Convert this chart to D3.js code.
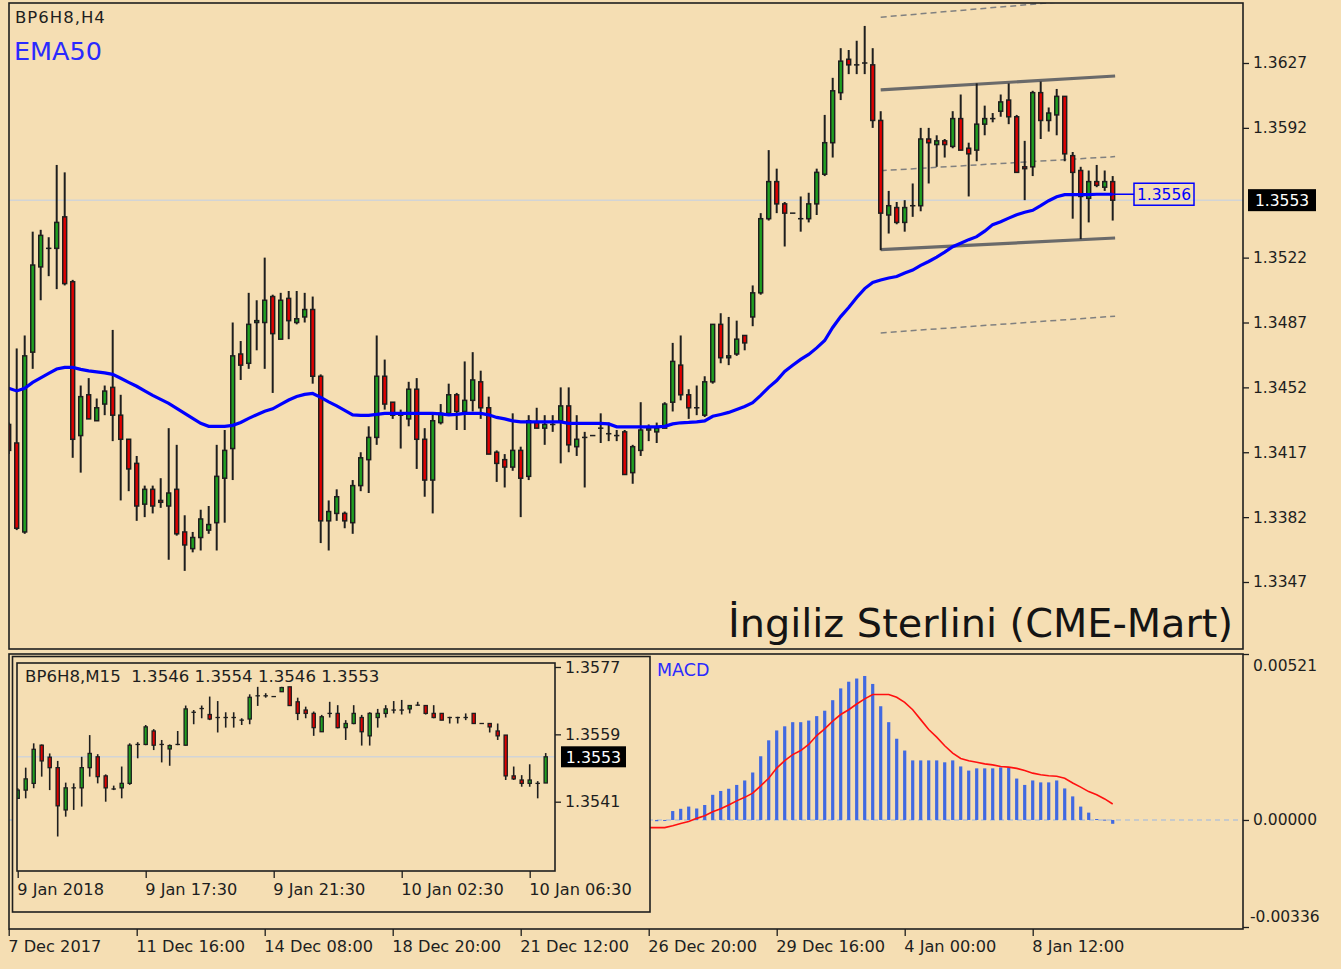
<!DOCTYPE html>
<html>
<head>
<meta charset="utf-8">
<script src="https://cdn.jsdelivr.net/npm/d3@7"></script>
<style>
  body { margin: 0; background: #f5deb3; }
  svg text { font-family: "DejaVu Sans", Verdana, sans-serif; }
</style>
</head>
<body>
<svg id="viz"></svg>
<script>
// ---- H4 candles (first one is cut by the left edge) ----
var mainOpen = [
  1.3432, 1.3422, 1.3374, 1.3471, 1.3517, 1.3527, 1.3527, 1.3544, 1.3509, 1.3426,
  1.3448, 1.3434, 1.3443, 1.3452, 1.3437, 1.3424, 1.3411, 1.3389, 1.3397, 1.3391,
  1.3388, 1.3397, 1.3374, 1.3365, 1.3371, 1.3375, 1.3379, 1.3403, 1.3419, 1.3470,
  1.3465, 1.3487, 1.3487, 1.3501, 1.3478, 1.3500, 1.3487, 1.3490, 1.3494, 1.3458,
  1.3380, 1.3384, 1.3384, 1.3379, 1.3399, 1.3413, 1.3425, 1.3458, 1.3444, 1.3437,
  1.3435, 1.3451, 1.3424, 1.3402, 1.3433, 1.3438, 1.3448, 1.3439, 1.3445, 1.3455,
  1.3441, 1.3417, 1.3413, 1.3409, 1.3418, 1.3404, 1.3433, 1.3430, 1.3432, 1.3434,
  1.3442, 1.3420, 1.3425, 1.3426, 1.3430, 1.3427, 1.3426, 1.3428, 1.3406, 1.3418,
  1.3429, 1.3428, 1.3430, 1.3444, 1.3464, 1.3448, 1.3441, 1.3437, 1.3455, 1.3486,
  1.3468, 1.3470, 1.3480, 1.3490, 1.3503, 1.3543, 1.3563, 1.3551, 1.3546, 1.3543,
  1.3543, 1.3551, 1.3567, 1.3584, 1.3611, 1.3629, 1.3626, 1.3627, 1.3626, 1.3596,
  1.3545, 1.3549, 1.3541, 1.3550, 1.3550, 1.3586, 1.3583, 1.3585, 1.3582, 1.3597,
  1.3581, 1.3580, 1.3594, 1.3597, 1.3601, 1.3607, 1.3598, 1.3571, 1.3571, 1.3611,
  1.3596, 1.3599, 1.3609, 1.3577, 1.3569, 1.3554, 1.3563, 1.3560, 1.3563
];
var mainHigh = [
  1.3433, 1.3473, 1.3480, 1.3536, 1.3537, 1.3533, 1.3572, 1.3568, 1.3510, 1.3453,
  1.3457, 1.3446, 1.3453, 1.3483, 1.3448, 1.3424, 1.3415, 1.3399, 1.3399, 1.3403,
  1.3430, 1.3421, 1.3383, 1.3374, 1.3386, 1.3388, 1.3421, 1.3429, 1.3487, 1.3477,
  1.3503, 1.3499, 1.3522, 1.3502, 1.3503, 1.3504, 1.3504, 1.3503, 1.3501, 1.3459,
  1.3391, 1.3397, 1.3385, 1.3402, 1.3417, 1.3431, 1.3480, 1.3467, 1.3444, 1.3440,
  1.3455, 1.3457, 1.3430, 1.3438, 1.3443, 1.3454, 1.3449, 1.3466, 1.3471, 1.3461,
  1.3447, 1.3418, 1.3416, 1.3438, 1.3420, 1.3437, 1.3441, 1.3437, 1.3437, 1.3452,
  1.3452, 1.3437, 1.3428, 1.3426, 1.3438, 1.3433, 1.3429, 1.3429, 1.3421, 1.3444,
  1.3432, 1.3433, 1.3444, 1.3476, 1.3480, 1.3451, 1.3453, 1.3458, 1.3486, 1.3492,
  1.3490, 1.3488, 1.3480, 1.3507, 1.3546, 1.3580, 1.3570, 1.3552, 1.3546, 1.3555,
  1.3557, 1.3570, 1.3599, 1.3619, 1.3635, 1.3634, 1.3639, 1.3647, 1.3635, 1.3601,
  1.3558, 1.3552, 1.3553, 1.3562, 1.3592, 1.3592, 1.3588, 1.3586, 1.3601, 1.3610,
  1.3584, 1.3616, 1.3604, 1.3600, 1.3610, 1.3616, 1.3599, 1.3585, 1.3612, 1.3617,
  1.3603, 1.3613, 1.3609, 1.3579, 1.3571, 1.3569, 1.3572, 1.3569, 1.3566
];
var mainLow = [
  1.3416, 1.3375, 1.3373, 1.3462, 1.3499, 1.3512, 1.3505, 1.3507, 1.3414, 1.3406,
  1.3435, 1.3434, 1.3437, 1.3423, 1.3391, 1.3396, 1.3380, 1.3382, 1.3384, 1.3387,
  1.3359, 1.3372, 1.3353, 1.3363, 1.3364, 1.3373, 1.3364, 1.3379, 1.3402, 1.3456,
  1.3462, 1.3472, 1.3462, 1.3449, 1.3478, 1.3478, 1.3486, 1.3487, 1.3454, 1.3368,
  1.3364, 1.3380, 1.3376, 1.3373, 1.3396, 1.3395, 1.3421, 1.3440, 1.3435, 1.3419,
  1.3431, 1.3408, 1.3393, 1.3384, 1.3432, 1.3437, 1.3429, 1.3429, 1.3439, 1.3435,
  1.3416, 1.3401, 1.3398, 1.3407, 1.3382, 1.3402, 1.3430, 1.3421, 1.3428, 1.3411,
  1.3417, 1.3415, 1.3398, 1.3426, 1.3422, 1.3423, 1.3423, 1.3405, 1.3400, 1.3415,
  1.3423, 1.3422, 1.3430, 1.3439, 1.3445, 1.3435, 1.3437, 1.3436, 1.3454, 1.3465,
  1.3464, 1.3469, 1.3472, 1.3485, 1.3502, 1.3542, 1.3546, 1.3528, 1.3546, 1.3536,
  1.3541, 1.3545, 1.3566, 1.3576, 1.3607, 1.3621, 1.3621, 1.3621, 1.3592, 1.3526,
  1.3535, 1.3540, 1.3536, 1.3544, 1.3547, 1.3562, 1.3571, 1.3576, 1.3581, 1.3580,
  1.3555, 1.3574, 1.3588, 1.3595, 1.3598, 1.3594, 1.3568, 1.3553, 1.3566, 1.3586,
  1.3590, 1.3588, 1.3574, 1.3543, 1.3532, 1.3541, 1.3560, 1.3558, 1.3542
];
var mainClose = [
  1.3418, 1.3376, 1.3469, 1.3518, 1.3534, 1.3527, 1.3541, 1.3508, 1.3424, 1.3447,
  1.3435, 1.3441, 1.3450, 1.3437, 1.3424, 1.3408, 1.3388, 1.3397, 1.3388, 1.3390,
  1.3395, 1.3373, 1.3367, 1.3371, 1.3381, 1.3378, 1.3404, 1.3418, 1.3469, 1.3464,
  1.3486, 1.3488, 1.3499, 1.3481, 1.3499, 1.3488, 1.3489, 1.3494, 1.3458, 1.3380,
  1.3385, 1.3393, 1.3380, 1.3399, 1.3414, 1.3425, 1.3458, 1.3443, 1.3437, 1.3437,
  1.3451, 1.3424, 1.3402, 1.3434, 1.3438, 1.3448, 1.3439, 1.3445, 1.3456, 1.3441,
  1.3416, 1.3411, 1.3409, 1.3418, 1.3403, 1.3434, 1.3430, 1.3432, 1.3432, 1.3442,
  1.3421, 1.3424, 1.3425, 1.3426, 1.3430, 1.3427, 1.3426, 1.3405, 1.3420, 1.3429,
  1.3430, 1.3430, 1.3443, 1.3466, 1.3448, 1.3441, 1.3441, 1.3455, 1.3486, 1.3468,
  1.3469, 1.3478, 1.3476, 1.3503, 1.3543, 1.3563, 1.3551, 1.3546, 1.3546, 1.3543,
  1.3551, 1.3568, 1.3584, 1.3612, 1.3628, 1.3626, 1.3626, 1.3627, 1.3596, 1.3546,
  1.3550, 1.3541, 1.3549, 1.3550, 1.3586, 1.3584, 1.3585, 1.3583, 1.3597, 1.3580,
  1.3578, 1.3594, 1.3597, 1.3597, 1.3606, 1.3598, 1.3568, 1.3570, 1.3611, 1.3596,
  1.3600, 1.3609, 1.3578, 1.3568, 1.3555, 1.3563, 1.3561, 1.3563, 1.3553
];

// EMA(50), one value per H4 bar
var ema50 = [
  1.34515, 1.34501, 1.34515, 1.34547, 1.34571, 1.34595, 1.34619, 1.34628, 1.34628, 1.34617,
  1.34609, 1.34604, 1.34598, 1.34590, 1.34569, 1.34547, 1.34526, 1.34501, 1.34477, 1.34455,
  1.34434, 1.34407, 1.34380, 1.34353, 1.34326, 1.34310, 1.34310, 1.34310, 1.34315, 1.34331,
  1.34353, 1.34372, 1.34391, 1.34404, 1.34428, 1.34452, 1.34471, 1.34482, 1.34487, 1.34466,
  1.34442, 1.34420, 1.34396, 1.34372, 1.34369, 1.34369, 1.34374, 1.34380, 1.34380, 1.34380,
  1.34380, 1.34380, 1.34380, 1.34380, 1.34377, 1.34372, 1.34374, 1.34380, 1.34380, 1.34380,
  1.34372, 1.34358, 1.34350, 1.34339, 1.34334, 1.34334, 1.34334, 1.34334, 1.34334, 1.34334,
  1.34326, 1.34326, 1.34326, 1.34326, 1.34326, 1.34323, 1.34307, 1.34307, 1.34307, 1.34307,
  1.34307, 1.34307, 1.34310, 1.34323, 1.34329, 1.34331, 1.34334, 1.34339, 1.34364, 1.34374,
  1.34385, 1.34401, 1.34417, 1.34437, 1.34477, 1.34520, 1.34557, 1.34606, 1.34639, 1.34671,
  1.34698, 1.34733, 1.34773, 1.34843, 1.34902, 1.34951, 1.35005, 1.35053, 1.35086, 1.35099,
  1.35110, 1.35118, 1.35137, 1.35153, 1.35178, 1.35199, 1.35223, 1.35250, 1.35279, 1.35298,
  1.35317, 1.35333, 1.35363, 1.35398, 1.35414, 1.35433, 1.35451, 1.35465, 1.35475, 1.35500,
  1.35527, 1.35548, 1.35560, 1.35560, 1.35560, 1.35560, 1.35562, 1.35562, 1.35562
];

// drawn channel: start bar, end bar, price at start and end of each line
var channelBars = [109, 138.3];
var channelSolidStart = [1.36125, 1.35263];
var channelSolidEnd = [1.36200, 1.35326];
var channelDashStart = [1.36517, 1.35689, 1.34814];
var channelDashEnd = [1.36625, 1.35765, 1.34904];

var mainTicks = [1.3627, 1.3592, 1.3522, 1.3487, 1.3452, 1.3417, 1.3382, 1.3347];
var timeTickBars = [0, 16, 32, 48, 64, 80, 96, 112, 128];
var timeLabels = ['7 Dec 2017', '11 Dec 16:00', '14 Dec 08:00', '18 Dec 20:00', '21 Dec 12:00',
  '26 Dec 20:00', '29 Dec 16:00', '4 Jan 00:00', '8 Jan 12:00'];

// ---- MACD (histogram from bar 81, signal from bar 80) ----
var macdStart = 81;
var macdHist = [
  -0.00004, 0.00000, 0.00028, 0.00035, 0.00042, 0.00036, 0.00047, 0.00079, 0.00091, 0.00098,
  0.00110, 0.00124, 0.00149, 0.00200, 0.00250, 0.00281, 0.00294, 0.00307, 0.00307, 0.00312,
  0.00326, 0.00343, 0.00376, 0.00413, 0.00434, 0.00444, 0.00452, 0.00427, 0.00357, 0.00307,
  0.00255, 0.00218, 0.00187, 0.00187, 0.00187, 0.00187, 0.00181, 0.00187, 0.00168, 0.00155,
  0.00162, 0.00162, 0.00162, 0.00165, 0.00165, 0.00130, 0.00110, 0.00124, 0.00118, 0.00118,
  0.00124, 0.00099, 0.00074, 0.00042, 0.00023, 0.00003, 0.00001, -0.00012
];
var signalStart = 80;
var macdSignal = [
  -0.00024, -0.00024, -0.00024, -0.00018, -0.00011, -0.00005, 0.00005, 0.00013, 0.00026, 0.00035,
  0.00047, 0.00060, 0.00071, 0.00084, 0.00107, 0.00131, 0.00163, 0.00186, 0.00205, 0.00218,
  0.00237, 0.00265, 0.00286, 0.00310, 0.00331, 0.00346, 0.00364, 0.00380, 0.00394, 0.00394,
  0.00394, 0.00385, 0.00369, 0.00346, 0.00315, 0.00284, 0.00260, 0.00233, 0.00210, 0.00193,
  0.00186, 0.00181, 0.00176, 0.00173, 0.00168, 0.00166, 0.00162, 0.00155, 0.00147, 0.00142,
  0.00139, 0.00137, 0.00131, 0.00116, 0.00103, 0.00089, 0.00079, 0.00066, 0.00050
];
var macdTicks = [0.00521, 0, -0.00336];

// ---- M15 inset ----
var insetOpen = [
  1.35419, 1.35441, 1.35459, 1.35561, 1.35529, 1.35501, 1.35388, 1.35447, 1.35447, 1.35501,
  1.35530, 1.35479, 1.35444, 1.35447, 1.35459, 1.35563, 1.35563, 1.35599, 1.35563, 1.35551,
  1.35563, 1.35561, 1.35649, 1.35659, 1.35643, 1.35635, 1.35635, 1.35635, 1.35628, 1.35631,
  1.35693, 1.35693, 1.35691, 1.35704, 1.35717, 1.35677, 1.35655, 1.35646, 1.35597, 1.35646,
  1.35646, 1.35608, 1.35619, 1.35635, 1.35586, 1.35635, 1.35646, 1.35655, 1.35655, 1.35658,
  1.35668, 1.35667, 1.35646, 1.35646, 1.35635, 1.35635, 1.35635, 1.35646, 1.35619, 1.35619,
  1.35599, 1.35588, 1.35479, 1.35468, 1.35459, 1.35459, 1.3546
];
var insetHigh = [
  1.35446, 1.35501, 1.35566, 1.35563, 1.35539, 1.35519, 1.35461, 1.35459, 1.35530, 1.35588,
  1.35537, 1.35483, 1.35453, 1.35504, 1.35566, 1.35569, 1.35615, 1.35604, 1.35575, 1.35563,
  1.35599, 1.35667, 1.35655, 1.35667, 1.35691, 1.35679, 1.35649, 1.35649, 1.35633, 1.35697,
  1.35717, 1.35700, 1.35691, 1.35717, 1.35717, 1.35688, 1.35664, 1.35651, 1.35642, 1.35677,
  1.35668, 1.35628, 1.35668, 1.35642, 1.35649, 1.35658, 1.35668, 1.35679, 1.35682, 1.35668,
  1.35677, 1.35668, 1.35668, 1.35646, 1.35637, 1.35637, 1.35646, 1.35646, 1.35619, 1.35619,
  1.35619, 1.35588, 1.35504, 1.35481, 1.35510, 1.35465, 1.3554
];
var insetLow = [
  1.35417, 1.35419, 1.35446, 1.35477, 1.35441, 1.35317, 1.35370, 1.35388, 1.35397, 1.35477,
  1.35459, 1.35410, 1.35441, 1.35419, 1.35455, 1.35526, 1.35561, 1.35548, 1.35515, 1.35506,
  1.35561, 1.35560, 1.35617, 1.35633, 1.35628, 1.35595, 1.35608, 1.35608, 1.35615, 1.35617,
  1.35666, 1.35688, 1.35691, 1.35704, 1.35667, 1.35628, 1.35633, 1.35586, 1.35597, 1.35635,
  1.35606, 1.35575, 1.35617, 1.35560, 1.35560, 1.35608, 1.35635, 1.35646, 1.35643, 1.35646,
  1.35667, 1.35643, 1.35633, 1.35628, 1.35619, 1.35619, 1.35628, 1.35619, 1.35619, 1.35595,
  1.35575, 1.35468, 1.35468, 1.35450, 1.35450, 1.35419, 1.3546
];
var insetClose = [
  1.35441, 1.35471, 1.35550, 1.35519, 1.35501, 1.35399, 1.35447, 1.35447, 1.35501, 1.35539,
  1.35477, 1.35447, 1.35444, 1.35459, 1.35561, 1.35563, 1.35610, 1.35561, 1.35563, 1.35560,
  1.35563, 1.35658, 1.35649, 1.35659, 1.35631, 1.35635, 1.35635, 1.35635, 1.35628, 1.35689,
  1.35693, 1.35693, 1.35691, 1.35715, 1.35667, 1.35646, 1.35646, 1.35608, 1.35637, 1.35646,
  1.35608, 1.35619, 1.35646, 1.35597, 1.35646, 1.35646, 1.35658, 1.35655, 1.35655, 1.35667,
  1.35668, 1.35646, 1.35635, 1.35628, 1.35635, 1.35635, 1.35635, 1.35619, 1.35619, 1.35610,
  1.35586, 1.35479, 1.35471, 1.35459, 1.35468, 1.35459, 1.3553
];
var insetTicks = [1.3577, 1.3559, 1.3541];
var insetTimeBars = [0, 16, 32, 48, 64];
var insetTimeLabels = ['9 Jan 2018', '9 Jan 17:30', '9 Jan 21:30', '10 Jan 02:30', '10 Jan 06:30'];

var lastPrice = 1.3553;
var emaLabel = '1.3556';

// ---------------------------------------------------------------
var width = 1341, height = 969;
var bg = '#f5deb3', ink = '#1e1e1e';
var bull = '#20a020', bear = '#e00000';
var fmt4 = d3.format('.4f');
var fmt5 = (d) => d3.format('.5f')(d).replace('\u2212', '-');

var svg = d3.select('#viz').attr('width', width).attr('height', height);
svg.append('rect').attr('width', width).attr('height', height).attr('fill', bg);

var defs = svg.append('defs');
function clip(id, x0, y0, x1, y1) {
  defs.append('clipPath').attr('id', id).append('rect')
    .attr('x', x0).attr('y', y0).attr('width', x1 - x0).attr('height', y1 - y0);
  return 'url(#' + id + ')';
}

var xMain = d3.scaleLinear().domain([0, 138]).range([8.7, 1112.7]);
var yMain = d3.scaleLinear().domain([1.3347, 1.3627]).range([582, 63]);
var yMacd = d3.scaleLinear().domain([-0.00336, 0.00521]).range([927, 654]);
var xInset = d3.scaleLinear().domain([0, 66]).range([17.7, 545.7]);
var yInset = d3.scaleLinear().domain([1.3541, 1.3577]).range([801.7, 667]);

function drawCandles(g, o, h, l, c, x, y, bw, ww, sw) {
  var idx = d3.range(o.length);
  g.selectAll('line.wick').data(idx).join('line')
    .attr('class', 'wick')
    .attr('x1', (i) => x(i)).attr('x2', (i) => x(i))
    .attr('y1', (i) => y(h[i])).attr('y2', (i) => y(l[i]))
    .attr('stroke', ink).attr('stroke-width', ww);
  g.selectAll('rect.body').data(idx).join('rect')
    .attr('class', 'body')
    .attr('x', (i) => x(i) - bw / 2).attr('width', bw)
    .attr('y', (i) => y(Math.max(o[i], c[i])))
    .attr('height', (i) => Math.max(0.01, Math.abs(y(o[i]) - y(c[i]))))
    .attr('fill', (i) => (c[i] >= o[i] ? bull : bear))
    .attr('stroke', ink).attr('stroke-width', sw);
}

function styleAxis(a, size) {
  a.select('.domain').remove();
  a.selectAll('line').attr('stroke', ink).attr('stroke-width', 1.3);
  a.selectAll('text').attr('fill', ink).style('font-size', size + 'px');
}

// ================= main window =================
var mainG = svg.append('g').attr('clip-path', clip('cMain', 9, 3, 1243, 649));

// bid line
mainG.append('line')
  .attr('x1', 9).attr('x2', 1243).attr('y1', yMain(lastPrice)).attr('y2', yMain(lastPrice))
  .attr('stroke', '#d2d4d6').attr('stroke-width', 1.5);

// channel
channelSolidStart.forEach(function (v, i) {
  mainG.append('line')
    .attr('x1', xMain(channelBars[0])).attr('x2', xMain(channelBars[1]))
    .attr('y1', yMain(v)).attr('y2', yMain(channelSolidEnd[i]))
    .attr('stroke', '#6a6a6a').attr('stroke-width', 3.2);
});
channelDashStart.forEach(function (v, i) {
  mainG.append('line')
    .attr('x1', xMain(channelBars[0])).attr('x2', xMain(channelBars[1]))
    .attr('y1', yMain(v)).attr('y2', yMain(channelDashEnd[i]))
    .attr('stroke', '#808080').attr('stroke-width', 1.5)
    .attr('stroke-dasharray', '6,4');
});

drawCandles(mainG.append('g'), mainOpen, mainHigh, mainLow, mainClose, xMain, yMain, 3.9, 2, 1.5);

var emaLine = d3.line().x((d, i) => xMain(i)).y((d) => yMain(d));
mainG.append('path').datum(ema50).attr('d', emaLine)
  .attr('fill', 'none').attr('stroke', '#0000ff').attr('stroke-width', 3.2);

// EMA value tag
var emaY = yMain(ema50[ema50.length - 1]);
svg.append('line').attr('x1', xMain(138)).attr('x2', 1134).attr('y1', emaY).attr('y2', emaY)
  .attr('stroke', '#0000ff').attr('stroke-width', 1.5);
svg.append('rect').attr('x', 1134).attr('y', emaY - 11).attr('width', 60).attr('height', 22)
  .attr('fill', 'none').attr('stroke', '#0000ff').attr('stroke-width', 1.5);
svg.append('text').attr('x', 1164).attr('y', emaY + 5.5).attr('text-anchor', 'middle')
  .style('font-size', '15.5px').attr('fill', '#0000ff').text(emaLabel);

// texts
svg.append('text').attr('x', 15).attr('y', 23).style('font-size', '16.5px')
  .style('letter-spacing', '1px').attr('fill', ink).text('BP6H8,H4');
svg.append('text').attr('x', 14).attr('y', 60).style('font-size', '25.5px').attr('fill', '#2a2aff')
  .text('EMA50');
svg.append('text').attr('x', 1233).attr('y', 637).attr('text-anchor', 'end')
  .style('font-size', '39.8px').attr('fill', '#141414')
  .text('İngiliz Sterlini (CME-Mart)');

// price axis
svg.append('g').attr('transform', 'translate(1243,0)')
  .call(d3.axisRight(yMain).tickValues(mainTicks).tickSize(6).tickPadding(4).tickFormat(fmt4))
  .call((a) => styleAxis(a, 15.5));
var lpY = yMain(lastPrice);
svg.append('rect').attr('x', 1248).attr('y', lpY - 11).attr('width', 68).attr('height', 22)
  .attr('fill', '#000');
svg.append('text').attr('x', 1282).attr('y', lpY + 6).attr('text-anchor', 'middle')
  .style('font-size', '15.5px').attr('fill', '#fff').text(fmt4(lastPrice));

svg.append('rect').attr('x', 9).attr('y', 3).attr('width', 1234).attr('height', 646)
  .attr('fill', 'none').attr('stroke', ink).attr('stroke-width', 1.6);

// ================= MACD window =================
var macdG = svg.append('g').attr('clip-path', clip('cMacd', 9, 654, 1243, 929));
macdG.append('line').attr('x1', 9).attr('x2', 1243).attr('y1', yMacd(0)).attr('y2', yMacd(0))
  .attr('stroke', '#b8c4d4').attr('stroke-width', 1.5).attr('stroke-dasharray', '5,4');
macdG.selectAll('rect.hist').data(macdHist).join('rect')
  .attr('class', 'hist')
  .attr('x', (d, i) => xMain(macdStart + i) - 1.6).attr('width', 3.2)
  .attr('y', (d) => yMacd(Math.max(0, d)))
  .attr('height', (d) => Math.max(1, Math.abs(yMacd(d) - yMacd(0))))
  .attr('fill', '#4169e1');
var sigLine = d3.line().x((d, i) => xMain(signalStart + i)).y((d) => yMacd(d));
macdG.append('path').datum(macdSignal).attr('d', sigLine)
  .attr('fill', 'none').attr('stroke', '#ff1010').attr('stroke-width', 1.6);

svg.append('text').attr('x', 657).attr('y', 676).style('font-size', '17.5px').attr('fill', '#2a2aff')
  .text('MACD');

var macdAxis = svg.append('g').attr('transform', 'translate(1243,0)')
  .call(d3.axisRight(yMacd).tickValues(macdTicks).tickSize(6).tickPadding(4).tickFormat(fmt5))
  .call((a) => styleAxis(a, 15.5));
macdAxis.selectAll('.tick text')
  .attr('dy', (d) => (d > 0 ? '1.05em' : d < 0 ? '-0.35em' : '0.32em'))
  .attr('x', (d) => (d < 0 ? 7 : 10));

svg.append('rect').attr('x', 9).attr('y', 654).attr('width', 1234).attr('height', 275)
  .attr('fill', 'none').attr('stroke', ink).attr('stroke-width', 1.6);

// time axis
svg.append('g').attr('transform', 'translate(0,929)')
  .call(d3.axisBottom(xMain).tickValues(timeTickBars).tickSize(7).tickPadding(4)
    .tickFormat((d, i) => timeLabels[i]))
  .call((a) => styleAxis(a, 16.2))
  .selectAll('text').attr('text-anchor', 'start').attr('dx', '-1');

// ================= M15 inset =================
svg.append('rect').attr('x', 12.5).attr('y', 656.5).attr('width', 637.5).attr('height', 255.5)
  .attr('fill', bg).attr('stroke', ink).attr('stroke-width', 1.6);

var insetG = svg.append('g').attr('clip-path', clip('cInset', 17, 663, 555, 871));
insetG.append('line')
  .attr('x1', 17).attr('x2', 555).attr('y1', yInset(lastPrice)).attr('y2', yInset(lastPrice))
  .attr('stroke', '#d2d4d6').attr('stroke-width', 1.5);
drawCandles(insetG.append('g'), insetOpen, insetHigh, insetLow, insetClose, xInset, yInset, 3.2, 1.6, 1.3);

svg.append('rect').attr('x', 17).attr('y', 663).attr('width', 538).attr('height', 208)
  .attr('fill', 'none').attr('stroke', ink).attr('stroke-width', 1.6);

svg.append('text').attr('x', 25).attr('y', 682).style('font-size', '16.6px').attr('fill', ink)
  .attr('xml:space', 'preserve')
  .text('BP6H8,M15  ' + [insetOpen[66], insetHigh[66], insetLow[66], insetClose[66]]
    .map(fmt4).join(' '));

svg.append('g').attr('transform', 'translate(555,0)')
  .call(d3.axisRight(yInset).tickValues(insetTicks).tickSize(6).tickPadding(4).tickFormat(fmt4))
  .call((a) => styleAxis(a, 15.8));
var ilY = yInset(lastPrice);
svg.append('rect').attr('x', 561).attr('y', ilY - 10.5).attr('width', 65).attr('height', 21)
  .attr('fill', '#000');
svg.append('text').attr('x', 593.5).attr('y', ilY + 6).attr('text-anchor', 'middle')
  .style('font-size', '15.8px').attr('fill', '#fff').text(fmt4(lastPrice));

svg.append('g').attr('transform', 'translate(0,871)')
  .call(d3.axisBottom(xInset).tickValues(insetTimeBars).tickSize(7).tickPadding(5)
    .tickFormat((d, i) => insetTimeLabels[i]))
  .call((a) => styleAxis(a, 16.2))
  .selectAll('text').attr('text-anchor', 'start').attr('dx', '-1');
</script>
</body>
</html>
